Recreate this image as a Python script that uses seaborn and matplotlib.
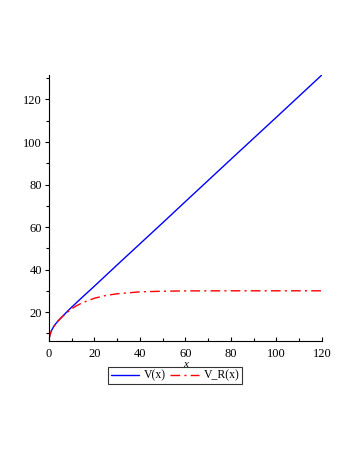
import numpy as np
import pandas as pd
import seaborn as sns
import matplotlib.pyplot as plt
from matplotlib.ticker import MultipleLocator

# Дані
x_vals = [0, 0.5, 1, 2, 3, 4, 6, 8, 10, 12, 15, 20, 25, 30, 40, 50, 60, 80, 100, 120]
v_vals = [7, 9.5, 11, 13, 14.5, 15.8, 18, 20.2, 22.3, 24.3, 27.3, 32.2, 37.2, 42.2,
          52.1, 62.0, 72.0, 91.9, 111.7, 131.6]
vr_vals = [7, 9.5, 11, 13, 14.5, 15.8, 18, 19.8, 21.5, 22.9, 24.5, 26.5, 27.8, 28.6,
           29.5, 29.8, 29.95, 30, 30, 30]

data = pd.DataFrame({'x': x_vals, 'V': v_vals, 'V_R': vr_vals})

sns.set_style("ticks", {'axes.edgecolor': 'black', 'xtick.color': 'black',
                        'ytick.color': 'black', 'text.color': 'black',
                        'axes.labelcolor': 'black'})
plt.rcParams['font.family'] = ['Liberation Serif', 'DejaVu Serif']

fig = plt.figure(figsize=(3.57, 4.62), dpi=100)
ax = fig.add_axes([0.137, 0.262, 0.765, 0.576])

sns.lineplot(data=data, x='x', y='V', ax=ax, color='blue', linewidth=1, label='V(x)')
sns.lineplot(data=data, x='x', y='V_R', ax=ax, color='red', linewidth=1,
             label='V_R(x)', dashes=False)
ax.lines[1].set_dashes([7, 3, 1.5, 3])

ax.set_xlim(0, 120)
ax.set_ylim(6.4, 131.6)
ax.xaxis.set_major_locator(MultipleLocator(20))
ax.xaxis.set_minor_locator(MultipleLocator(10))
ax.yaxis.set_major_locator(MultipleLocator(20))
ax.yaxis.set_minor_locator(MultipleLocator(10))
ax.tick_params(axis='x', which='both', direction='in', labelsize=9, pad=5)
ax.tick_params(axis='y', which='both', direction='out', labelsize=9, pad=2)
ax.tick_params(which='major', length=3, width=0.8)
ax.tick_params(which='minor', length=2, width=0.8)
sns.despine(ax=ax)
ax.set_xlabel('x', style='italic', fontsize=8, labelpad=0)
ax.set_ylabel('')

ax.legend(loc='upper center', bbox_to_anchor=(0.49, 0.205), bbox_transform=fig.transFigure,
          ncol=2, frameon=True, fancybox=False, edgecolor='black', fontsize=8.5,
          handlelength=2.4, handletextpad=0.4, columnspacing=0.4, borderpad=0.2,
          borderaxespad=0)
ax.get_legend().get_frame().set_linewidth(0.8)

fig.savefig('out.png', dpi=100)
